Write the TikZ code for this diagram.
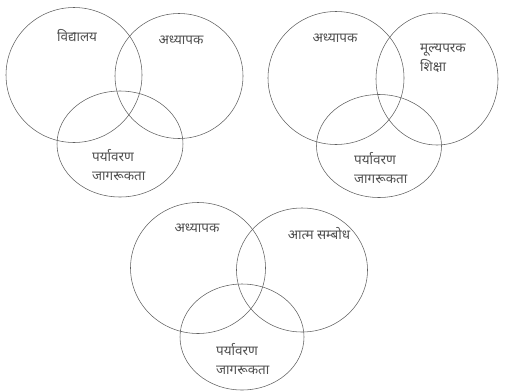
\documentclass[tikz,border=0pt]{standalone}
\usepackage{fontspec}
\usepackage{tikz}
\newfontfamily\devfont[Script=Devanagari]{Noto Sans}
\definecolor{SetLine}{HTML}{606060}
\definecolor{SetText}{HTML}{505050}

\begin{document}
\begin{tikzpicture}[x=1pt,y=-1pt]
  \path[use as bounding box] (0,0) rectangle (505,391);
  \tikzset{
    vnSet/.style={draw=SetLine, line width=.55pt},
    vnLabel/.style={
      font=\devfont\fontsize{13.5}{19}\selectfont, text=SetText,
      inner sep=0pt, align=left
    }
  }

  % पहला आरेख
  \draw[vnSet] (74,75) ellipse (68 and 67.5);
  \draw[vnSet] (179,76) ellipse (64 and 62.5);
  \draw[vnSet] (120,144) ellipse (63 and 53);
  \node[vnLabel] (school1) at (77,36) {विद्यालय};
  \node[vnLabel] (teacher1) at (181,40) {अध्यापक};
  \node[vnLabel,anchor=west] (aware1) at (92,165) {पर्यावरण\\जागरूकता};

  % दूसरा आरेख
  \draw[vnSet] (336,78) ellipse (68 and 66.5);
  \draw[vnSet] (437,79) ellipse (61 and 66);
  \draw[vnSet] (379,146) ellipse (62.5 and 51.5);
  \node[vnLabel] (teacher2) at (335,38) {अध्यापक};
  \node[vnLabel,anchor=west] (value2) at (420,58) {मूल्यपरक\\शिक्षा};
  \node[vnLabel,anchor=west] (aware2) at (354,168) {पर्यावरण\\जागरूकता};

  % तीसरा आरेख
  \draw[vnSet] (198,268) ellipse (67.5 and 65.5);
  \draw[vnSet] (302,270) ellipse (65.5 and 62);
  \draw[vnSet] (242,337) ellipse (62 and 53);
  \node[vnLabel] (teacher3) at (197,228) {अध्यापक};
  \node[vnLabel] (self3) at (319,234) {आत्म सम्बोध};
  \node[vnLabel,anchor=west] (aware3) at (216,359) {पर्यावरण\\जागरूकता};
\end{tikzpicture}
\end{document}
